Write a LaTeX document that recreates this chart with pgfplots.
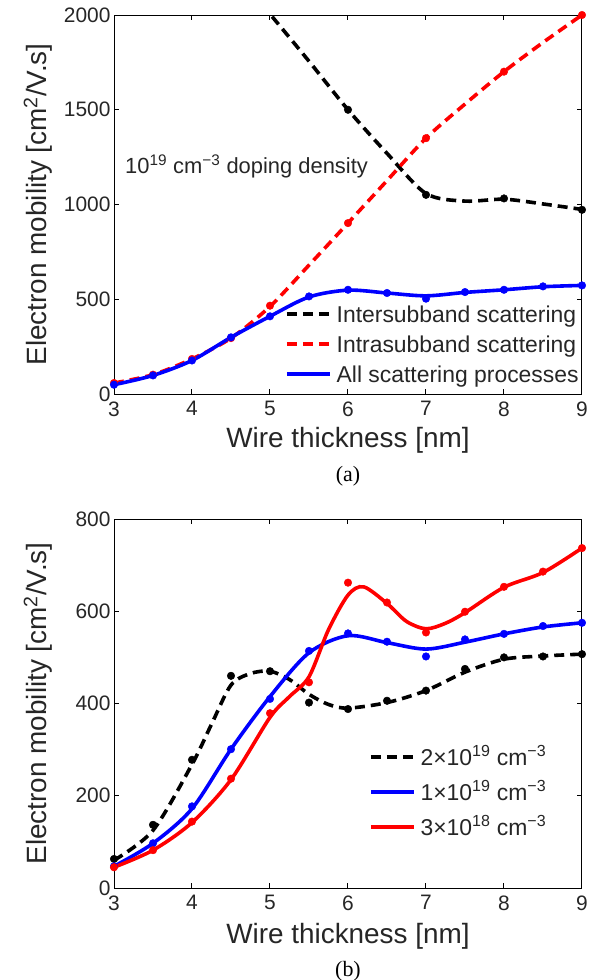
\documentclass[border=0pt]{standalone}
\usepackage{fontspec}
\setmainfont{Liberation Sans}
\newfontfamily\capfont{Liberation Serif}
\usepackage{pgfplots}
\pgfplotsset{compat=1.18}

\pgfplotsset{
  myaxis/.style={
    scale only axis, width=468bp, xmin=3, xmax=9, xtick={3,...,9}, ymin=0,
    axis line style={line width=1bp},
    every tick/.style={black, line width=1bp},
    major tick length=5bp,
    tick label style={font=\fontsize{21}{24}\selectfont, text=black!85},
    /pgf/number format/assume math mode=true,
    /pgf/number format/1000 sep={},
    xticklabel style={yshift=-4bp},
    label style={font=\fontsize{28}{32}\selectfont, text=black!85},
    ylabel={Electron mobility [cm\textsuperscript{2}/V.s]},
    xlabel={Wire thickness [nm]},
    ylabel style={at={(axis description cs:-0.1624,0.5)}, anchor=center},
    clip mode=individual,
    legend cell align=left,
    legend image code/.code={\draw[##1] (0bp,0bp) -- (43bp,0bp);},
  },
  dot/.style={only marks, mark=*, mark size=3.8bp, forget plot},
  blk/.style={black, line width=3.6bp, dash pattern=on 10bp off 6bp},
  blu/.style={blue, line width=3.6bp},
  rdd/.style={red, line width=3.6bp, dash pattern=on 10bp off 6bp},
  rds/.style={red, line width=3.6bp},
}

\begin{document}
\begin{tikzpicture}
\useasboundingbox (0,0) rectangle (596bp,-980bp);

% ---------------- (a) ----------------
\begin{axis}[myaxis,
  at={(114bp,-394bp)}, anchor=south west,
  height=379bp, ymax=2000, ytick={0,500,...,2000},
  xlabel style={at={(axis description cs:0.5,0)}, anchor=base, yshift=-53bp},
  legend style={draw=none, fill=none, inner sep=0pt, outer sep=0pt,
    at={(axis description cs:0.3655,0.2427)}, anchor=north west,
    row sep=6bp, column sep=5bp,
    nodes={inner sep=0pt, text height=20bp, text depth=4bp, text=black!85},
    font=\fontsize{23}{27}\selectfont},
]
\addplot[blk, smooth] coordinates {
 (4.5,2250) (5,2005) (5.5,1756) (6,1500) (6.5,1270) (7,1058) (7.5,1018) (8,1028) (8.5,1003) (9,974)};
\addlegendentry{Intersubband scattering}
\addplot[rdd, smooth] coordinates {
 (3,58) (3.5,102) (4,185) (4.5,295) (5,462) (5.5,680) (6,902) (6.5,1126) (7,1350) (7.5,1530) (8,1701) (8.5,1855) (9,2000)};
\addlegendentry{Intrasubband scattering}
\addplot[blu, smooth] coordinates {
 (3,49) (3.5,98) (4,177) (4.5,299) (5,410) (5.5,512) (6,548) (6.5,533) (7,518) (7.5,536) (8,550) (8.5,566) (9,573)};
\addlegendentry{All scattering processes}
\addplot[dot, black] coordinates {(6,1500) (7,1051) (8,1032) (9,972)};
\addplot[dot, red] coordinates {(3,58) (3.5,102) (4,185) (4.5,295) (5,466) (6,902) (7,1350) (8,1701) (9,2000)};
\addplot[dot, blue] coordinates {(3,49) (3.5,98) (4,177) (4.5,299) (5,410) (5.5,515) (6,550) (6.5,533) (7,503) (7.5,538) (8,550) (8.5,568) (9,573)};
\node[anchor=base west, inner sep=0pt, font=\fontsize{22}{26}\selectfont, text=black!85]
  at (axis cs:3.141,1166) {10\textsuperscript{19} cm\textsuperscript{−3} doping density};
\node[yshift=-82bp, inner sep=0pt, font=\capfont\fontsize{22}{26}\selectfont]
  at (axis description cs:0.5,0) {(a)};
\end{axis}

% ---------------- (b) ----------------
\begin{axis}[myaxis,
  at={(114bp,-888bp)}, anchor=south west,
  height=369bp, ymax=800, ytick={0,200,...,800},
  xlabel style={at={(axis description cs:0.5,0)}, anchor=base, yshift=-55bp},
  legend style={draw=none, fill=none, inner sep=0pt, outer sep=0pt,
    at={(axis description cs:0.5449,0.3875)}, anchor=north west,
    row sep=11bp, column sep=5bp,
    nodes={inner sep=0pt, text height=20bp, text depth=4bp, text=black!85},
    font=\fontsize{23}{27}\selectfont},
]
\addplot[blk, smooth] coordinates {
 (3,60) (3.5,125) (4,268) (4.25,355) (4.5,440) (4.75,465) (5,470) (5.25,452) (5.5,420) (5.75,398) (6,390) (6.5,402) (7,428) (7.5,468) (8,496) (8.5,503) (9,507)};
\addlegendentry{2×10\textsuperscript{19} cm\textsuperscript{−3}}
\addplot[blu, smooth] coordinates {
 (3,47) (3.5,97) (4,172) (4.5,301) (5,415) (5.5,510) (6,547) (6.5,532) (7,518) (7.5,533) (8,551) (8.5,566) (9,575)};
\addlegendentry{1×10\textsuperscript{19} cm\textsuperscript{−3}}
\addplot[rds, smooth] coordinates {
 (3,45) (3.5,82) (4,142) (4.5,235) (5,370) (5.25,415) (5.5,458) (5.75,560) (6,635) (6.2,653) (6.5,617) (6.75,578) (7,562) (7.25,574) (7.5,597) (8,652) (8.5,684) (9,737)};
\addlegendentry{3×10\textsuperscript{18} cm\textsuperscript{−3}}
\addplot[dot, black] coordinates {(3,63) (3.5,137) (4,278) (4.5,460) (5,470) (5.5,402) (6,388) (6.5,406) (7,428) (7.5,475) (8,500) (8.5,502) (9,507)};
\addplot[dot, blue] coordinates {(3,47) (3.5,97) (4,177) (4.5,301) (5,410) (5.5,514) (6,552) (6.5,534) (7,502) (7.5,539) (8,551) (8.5,568) (9,575)};
\addplot[dot, red] coordinates {(3,45) (3.5,82) (4,144) (4.5,237) (5,379) (5.5,446) (6,662) (6.5,619) (7,554) (7.5,599) (8,653) (8.5,686) (9,737)};
\node[yshift=-83bp, inner sep=0pt, font=\capfont\fontsize{22}{26}\selectfont]
  at (axis description cs:0.5,0) {(b)};
\end{axis}
\end{tikzpicture}
\end{document}
